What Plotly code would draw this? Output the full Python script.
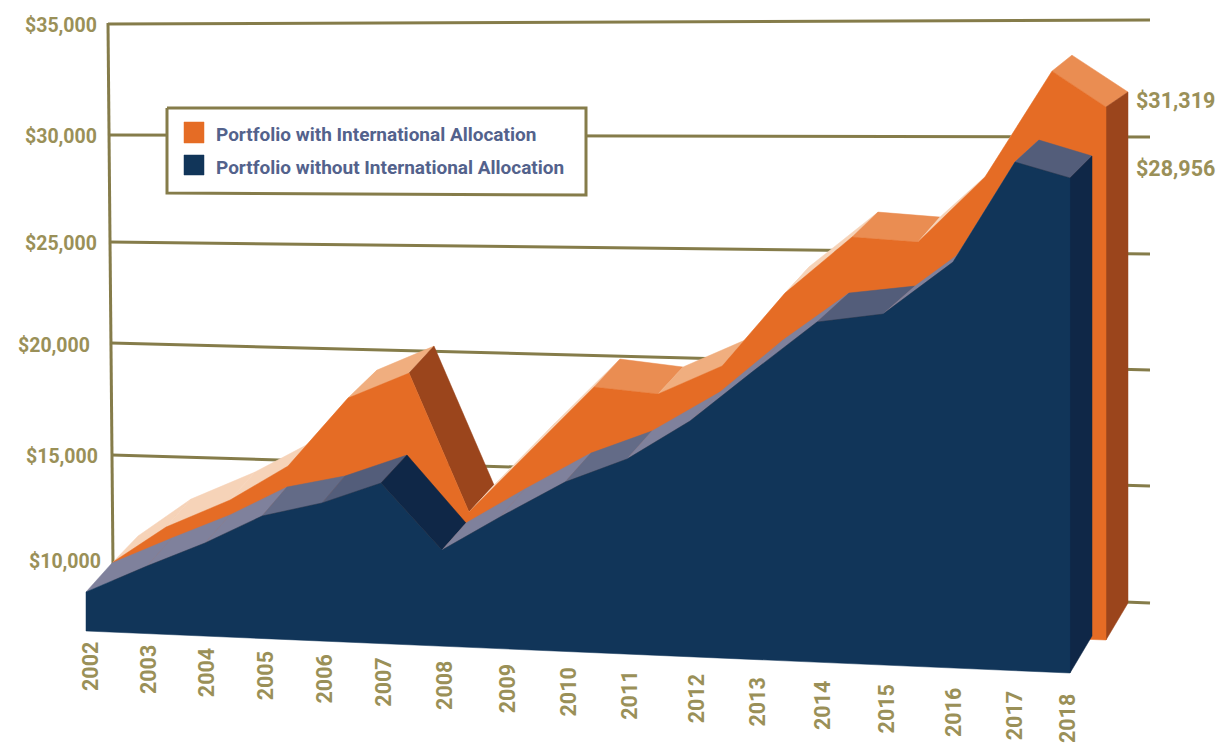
import plotly.graph_objects as go

# ---------- data ----------
YEARS = list(range(2002, 2019))
WITH_INTL = [10000, 11599, 12874, 14440, 17479, 18659, 12749, 15490, 18361,
             18166, 19481, 22740, 25274, 25166, 28088, 32779, 31319]
WITHOUT_INTL = [10000, 11189, 12249, 13470, 14119, 15054, 12377, 13853, 15420,
                16488, 18179, 20324, 22519, 22968, 25253, 29522, 28956]
GRID_LEVELS = [35000, 30000, 25000, 20000, 15000, 10000]
GRID_LABELS = ["$35,000", "$30,000", "$25,000", "$20,000", "$15,000", "$10,000"]
NAME_WITH = "Portfolio with International Allocation"
NAME_WITHOUT = "Portfolio without International Allocation"
END_LABELS = ["$31,319", "$28,956"]

# ---------- pseudo-3D projection (hand-drawn perspective of the original) ----------
NAVY_X = [86, 147, 205, 262, 322, 381, 442, 500, 565, 627, 690, 752, 817, 883, 953, 1015, 1070]
NAVY_DX = [26, 25, 25, 25, 23, 26, 24, 25, 26, 25, 30, 31, 32, 32, 3, 24, 22]
NAVY_DY = [29, 28, 28, 29, 27, 28, 27, 28, 29, 28, 29, 32, 29, 28, 6, 22, 22]
ORANGE_X = [113, 166, 230, 288, 348, 409, 469, 530, 594, 658, 722, 785, 852, 918, 985, 1052, 1106]
ORANGE_DX = [25, 25, 25, 22, 29, 25, 25, 25, 26, 25, 23, 25, 26, 22, 5, 20, 22]
ORANGE_DY = [26, 28, 28, 23, 28, 27, 27, 28, 28, 27, 26, 27, 25, 25, 5, 16, 15]
YEAR_LABEL_X = [90, 148, 206, 265, 324, 384, 445, 507, 568, 630, 696, 758, 822, 886, 953, 1014, 1067]
WALL_LEFT_Y = [24, 135, 242, 343, 455, 562]
WALL_RIGHT_Y = [20, 137, 254, 370, 486, 603]
LABEL_POS = [(98, 25), (98, 136), (98, 243), (91, 345), (99, 456), (102, 561)]


def navy_base(x):
    return 631 + (x - 86) * 42 / 984


def orange_base(x):
    return 602 + (x - 112) * 38 / 994


def navy_y(v, x):
    return navy_base(x) - (v - 8379) * 495 / (28956 - 8379)


def orange_y(v, x):
    return orange_base(x) - (v - 8270) * 533 / (31319 - 8270)


# ---------- colours ----------
OLIVE = "#857c4a"
TEXT_OLIVE = "#9a9058"
NAVY = "#113559"
NAVY_DARK = "#0f2747"
ORANGE = "#e56c25"
RUST = "#9b451c"
LEGEND_TEXT = "#53628c"
P1, P2, P3 = "#f6d3b8", "#f0ae7f", "#ea8d52"
G1, G2, G3 = "#7f819c", "#636b87", "#535d7a"
ORANGE_FACES = [P1, P1, P1, P1, P2, RUST, P1, P1, P3, P2, P1, P1, P3, P1, P1, P3]
NAVY_FACES = [G1, G1, G1, G2, G3, NAVY_DARK, G1, G1, G2, G1, G1, G1, G3, G1, G1, G3]

fig = go.Figure()


def poly(xs, ys, color, name=None):
    fig.add_trace(go.Scatter(x=list(xs) + [xs[0]], y=list(ys) + [ys[0]], mode="lines",
                             fill="toself", fillcolor=color,
                             line=dict(color=color, width=0.5),
                             name=name or "", hoverinfo="skip", showlegend=False))


# wall: grid lines and left edge
for i, lev in enumerate(GRID_LEVELS):
    fig.add_trace(go.Scatter(x=[108 + i, 1150], y=[WALL_LEFT_Y[i], WALL_RIGHT_Y[i]], mode="lines",
                             line=dict(color=OLIVE, width=3), name=GRID_LABELS[i],
                             hoverinfo="skip", showlegend=False))
fig.add_trace(go.Scatter(x=[108, 113], y=[WALL_LEFT_Y[0] - 1, 565], mode="lines",
                         line=dict(color=OLIVE, width=3), hoverinfo="skip", showlegend=False))

# orange series
ox = ORANGE_X
oy = [orange_y(v, x) for v, x in zip(WITH_INTL, ox)]
obx = [x + d for x, d in zip(ox, ORANGE_DX)]
oby = [y - d for y, d in zip(oy, ORANGE_DY)]
for i, c in enumerate(ORANGE_FACES):
    poly([ox[i], ox[i + 1], obx[i + 1], obx[i]], [oy[i], oy[i + 1], oby[i + 1], oby[i]], c)
poly([ox[-1], obx[-1], obx[-1], ox[-1]],
     [oy[-1], oby[-1], orange_base(ox[-1]) - 37, orange_base(ox[-1])], RUST)
poly(ox + [ox[-1], ox[0]], oy + [orange_base(ox[-1]), orange_base(ox[0])], ORANGE, NAME_WITH)

# navy series
nx = NAVY_X
ny = [navy_y(v, x) for v, x in zip(WITHOUT_INTL, nx)]
nbx = [x + d for x, d in zip(nx, NAVY_DX)]
nby = [y - d for y, d in zip(ny, NAVY_DY)]
for i, c in enumerate(NAVY_FACES):
    poly([nx[i], nx[i + 1], nbx[i + 1], nbx[i]], [ny[i], ny[i + 1], nby[i + 1], nby[i]], c)
poly([nx[-1], nbx[-1], nbx[-1], nx[-1]],
     [ny[-1], nby[-1], navy_base(nx[-1]) - 37, navy_base(nx[-1])], NAVY_DARK)
poly(nx + [nx[-1], nx[0]], ny + [navy_base(nx[-1]), navy_base(nx[0])], NAVY, NAME_WITHOUT)

# legend box
fig.add_trace(go.Scatter(x=[167, 586, 586, 167, 167], y=[108, 108, 195, 193, 108], mode="lines",
                         fill="toself", fillcolor="white", line=dict(color=OLIVE, width=3),
                         hoverinfo="skip", showlegend=False))
poly([184, 204, 204, 184], [122, 122, 143, 143], ORANGE, NAME_WITH)
poly([184, 204, 204, 184], [155, 155, 175, 175], NAVY, NAME_WITHOUT)

annotations = []


def label(text, x, y, size, color, xanchor="center", angle=0):
    annotations.append(dict(text=text, x=x, y=y, xref="x", yref="y", showarrow=False,
                            xanchor=xanchor, yanchor="middle", textangle=angle,
                            font=dict(family="Roboto", size=size, color=color, weight=700)))


for t, (x, y) in zip(GRID_LABELS, LABEL_POS):
    label(t, x + 1, y, 19.5, TEXT_OLIVE, "right")
for yr, x in zip(YEARS, YEAR_LABEL_X):
    label(str(yr), x, 667 + (x - 90) * 0.0533, 21.5, TEXT_OLIVE, angle=-90)
label(END_LABELS[0], 1134, 100, 21.5, TEXT_OLIVE, "left")
label(END_LABELS[1], 1134, 168, 21.5, TEXT_OLIVE, "left")
label(NAME_WITH, 214, 134, 19, LEGEND_TEXT, "left")
label(NAME_WITHOUT, 214, 167, 19, LEGEND_TEXT, "left")

fig.update_layout(
    width=1221, height=746, margin=dict(l=0, r=0, t=0, b=0),
    paper_bgcolor="white", plot_bgcolor="white", showlegend=False,
    annotations=annotations,
    xaxis=dict(range=[0, 1221], visible=False, fixedrange=True),
    yaxis=dict(range=[746, 0], visible=False, fixedrange=True),
)
fig.write_html("out.html", config=dict(displayModeBar=False),
               post_script="document.body.style.margin='0';document.documentElement.style.overflow='hidden';")
